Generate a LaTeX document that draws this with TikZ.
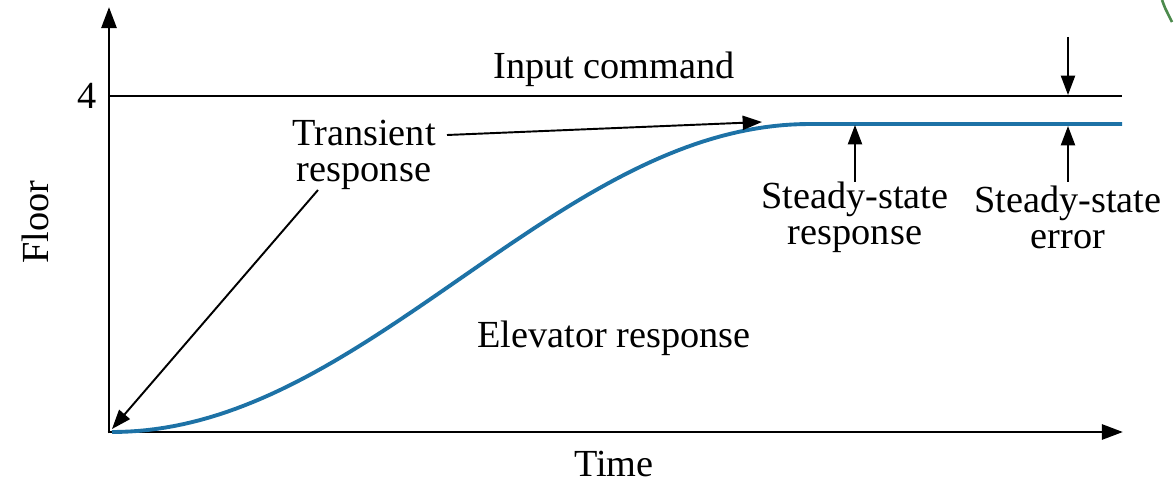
\documentclass[tikz,border=0pt]{standalone}
\usepackage{fontspec}
\setmainfont{Liberation Serif}
\usetikzlibrary{arrows.meta}

\definecolor{elevblue}{RGB}{29,114,166}

\begin{document}
\begin{tikzpicture}
      [x = 0.02cm, y = -0.02cm,
      axis/.style = {line width = 1.7pt, -{Triangle[length = 12pt, width = 8.5pt]}},
      pointer/.style = {line width = 1.1pt, -{Triangle[length = 11pt, width = 8pt]}},
      lbl/.style = {
         font = \fontsize{21.8}{20.5}\selectfont,
         align = center,
         inner sep = 0pt
      },
      response/.style = {elevblue, line width = 2.2pt}]

      \useasboundingbox (0, 0) rectangle (1174, 483);

      % axes
      \coordinate (origin) at (109, 432);
      \coordinate (ytip) at (109, 7);
      \coordinate (xtip) at (1123, 432);
      \draw[axis] ([yshift = -0.8pt] origin) -- (ytip);
      \draw[axis] ([xshift = -0.8pt] origin) -- (xtip);

      % input command level
      \coordinate (four) at (109, 96);
      \coordinate (fourend) at (1122, 96);
      \draw[line width = 1.1pt] (four) -- (fourend);
      \node[lbl, anchor = east] (level) at (97, 96) {4};
      \node[lbl] (input) at (614, 69) {Input command};

      % elevator response
      \draw[response] plot[domain = 0:1, samples = 80]
         ({112 + 698*\x}, {432 - 308*(1 - cos(180*\x))/2}) -- (1122, 124);

      \node[lbl] (elev) at (614, 338) {Elevator response};
      \node[lbl] (time) at (614, 464) {Time};
      \node[lbl, rotate = 90] (floor) at (35, 222) {Floor};

      % transient
      \node[lbl] (trans) at (364, 155) {Transient\\response};
      \coordinate (tr1) at (447, 135);
      \coordinate (tr1tip) at (762, 122);
      \coordinate (tr2) at (318, 190);
      \coordinate (tr2tip) at (112, 429);
      \draw[pointer] (tr1) -- (tr1tip);
      \draw[pointer] (tr2) -- (tr2tip);

      % steady state
      \node[lbl] (ssr) at (855, 217) {Steady-state\\response};
      \node[lbl] (sse) at (1068, 217) {Steady-state\\error};
      \coordinate (ssrfoot) at (855, 182);
      \coordinate (ssrtip) at (855, 125);
      \coordinate (ssefoot) at (1068, 182);
      \coordinate (ssetip) at (1068, 126);
      \coordinate (errtop) at (1068, 37);
      \coordinate (errtip) at (1068, 95);
      \draw[pointer] (ssrfoot) -- (ssrtip);
      \draw[pointer] (ssefoot) -- (ssetip);
      \draw[pointer] (errtop) -- (errtip);

      % slide decoration
      \draw[green!35!black, line width = 1.5pt, opacity = 0.7]
         (1162, 0) .. controls (1164, 6) .. (1172, 22);

   \end{tikzpicture}
\end{document}
